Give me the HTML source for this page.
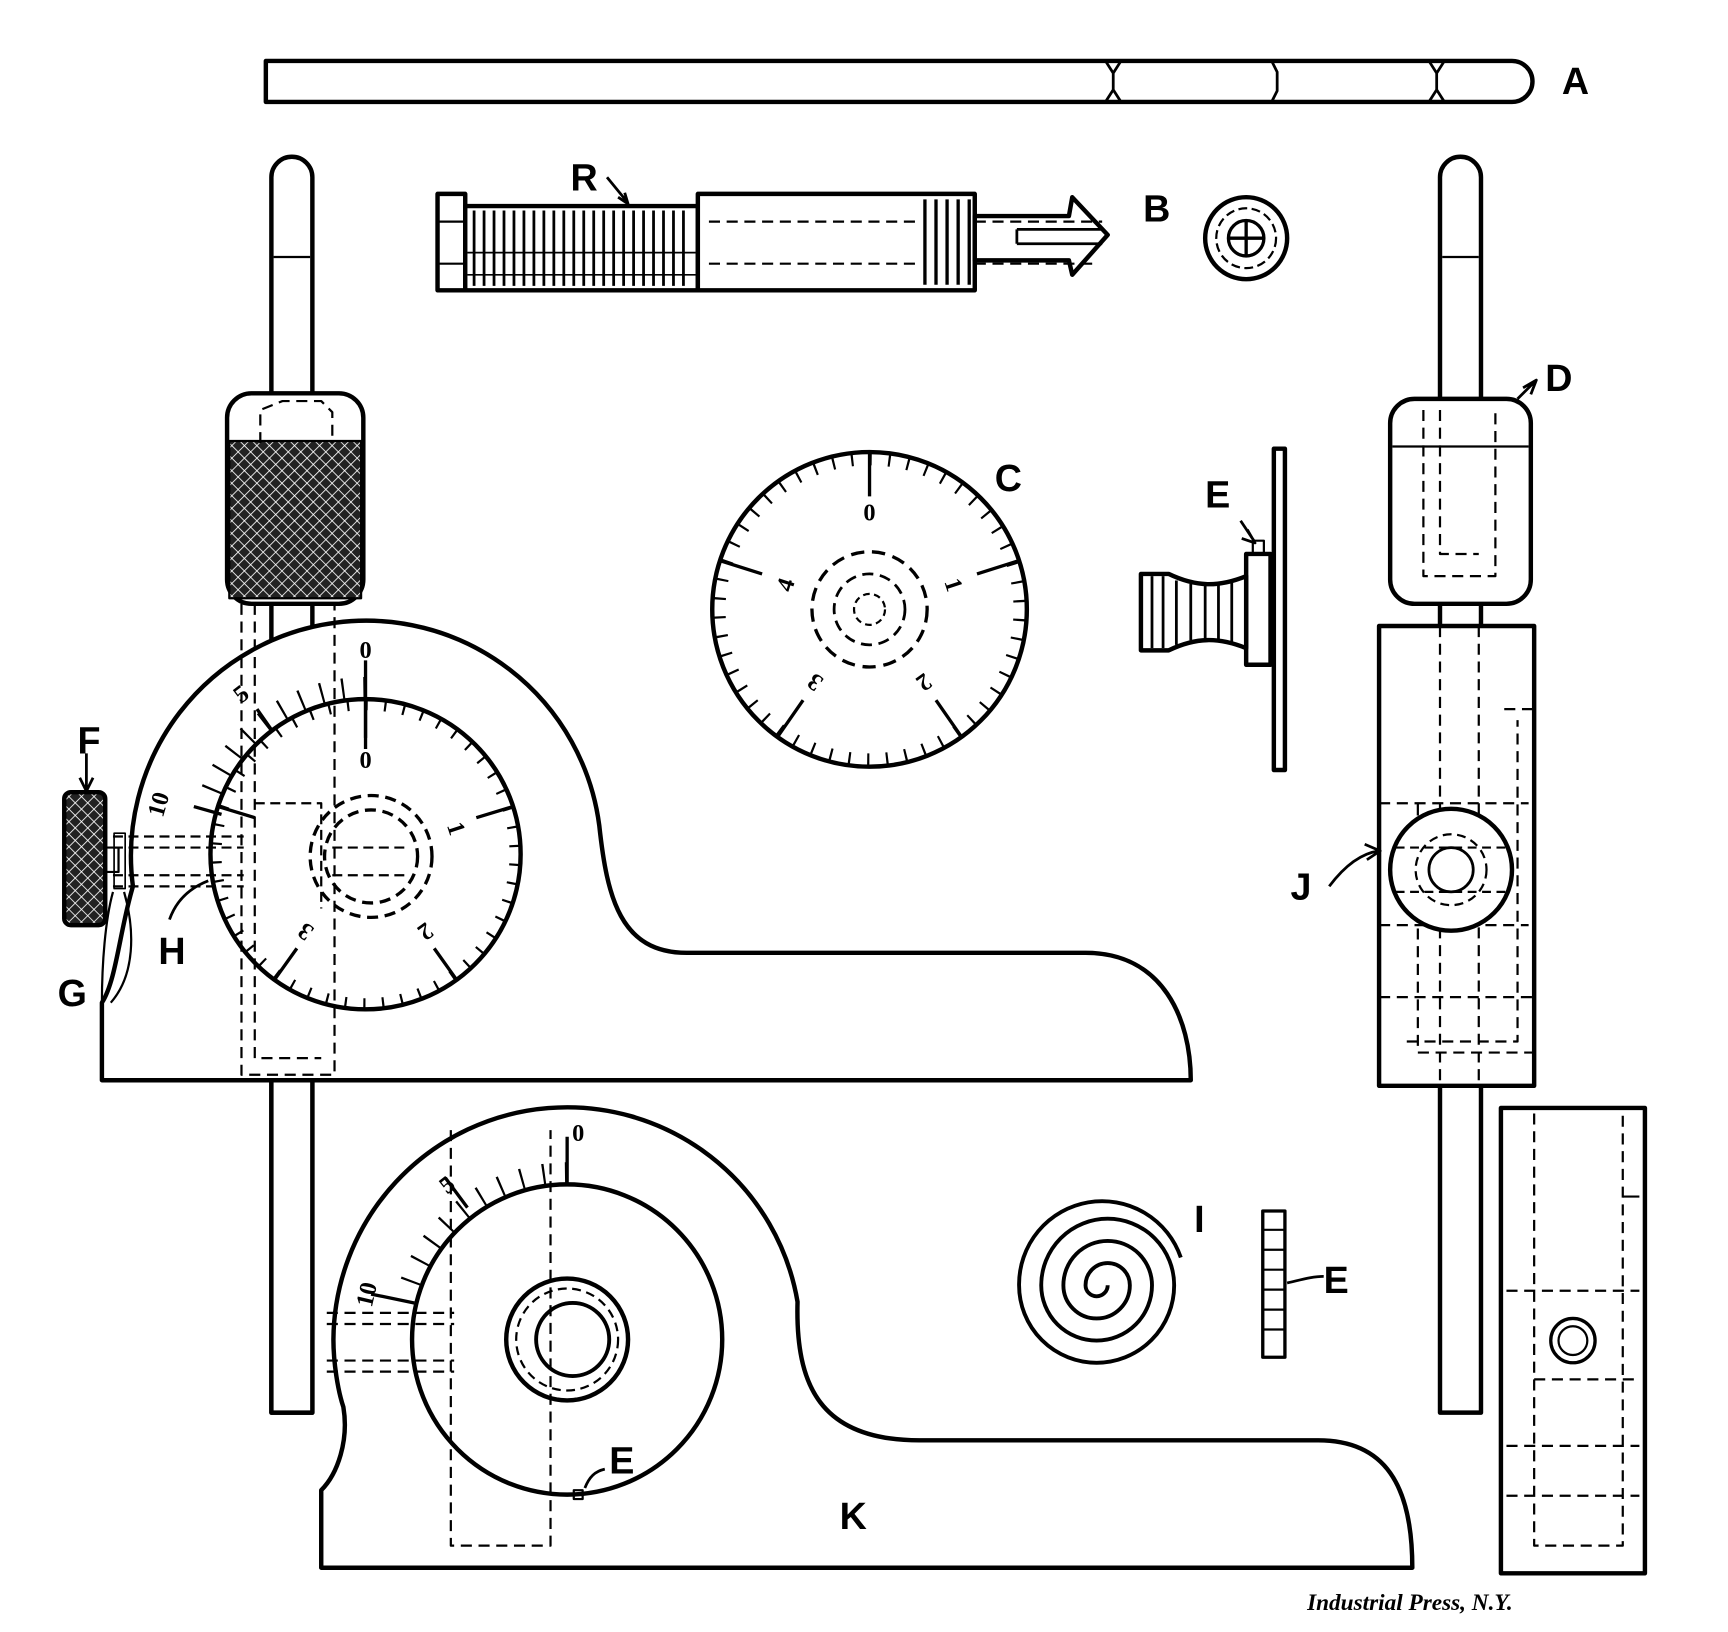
<!DOCTYPE html>
<html><head><meta charset="utf-8"><style>
html,body{margin:0;padding:0;background:#fff;}
svg{display:block;}
.l{font-family:"Liberation Sans",sans-serif;font-weight:bold;fill:#000;}
.n{font-family:"Liberation Serif",serif;font-weight:bold;fill:#000;}
</style></head><body>
<svg width="1728" height="1632" viewBox="0 0 1560 1473" preserveAspectRatio="none" xmlns="http://www.w3.org/2000/svg">
<defs>
<pattern id="kn" width="8" height="8" patternUnits="userSpaceOnUse" patternTransform="rotate(45)">
<rect width="8" height="8" fill="#222"/><line x1="0" y1="0" x2="0" y2="8" stroke="#fff" stroke-width="1.5"/><line x1="0" y1="0" x2="8" y2="0" stroke="#fff" stroke-width="1.5"/></pattern>
</defs>
<g fill="none" stroke="#000" stroke-width="4" stroke-linejoin="round">
<!-- A rod -->
<path d="M240,55 L1365,55 A18,18 0 0 1 1365,92 L240,92 Z"/>
<path d="M998,55 L1005,66 L1005,81 L998,92 M1012,55 L1005,66 M1005,81 L1012,92 M1148,55 L1153,65 L1153,82 L1148,92 M1290,55 L1297,66 L1297,81 L1290,92 M1304,55 L1297,66 M1297,81 L1304,92" stroke-width="2.5"/>
<!-- left rod -->
<path d="M245,1275 L245,160 A18,18 0 0 1 282,160 L282,1275 Z" fill="#fff"/>
<line x1="247" y1="232" x2="280" y2="232" stroke-width="2"/>
<!-- left collar -->
<rect x="205" y="355" width="123" height="190" rx="22" fill="#fff"/>
<rect x="207" y="398" width="119" height="142" fill="url(#kn)" stroke-width="2"/>
<path d="M235,400 L235,370 L255,362 L290,362 L300,372 L300,400" stroke-dasharray="10,6" stroke-width="2"/>
<!-- left body -->
<path d="M92,975 L92,905 C105,885 108,840 120,800 A212,212 0 1 1 541,745 C548,810 560,860 620,860 L980,860 C1050,860 1075,920 1075,975 Z" fill="#fff"/>
<rect x="245" y="975" width="37" height="300" fill="#fff"/>
<circle cx="330" cy="771" r="140" fill="#fff"/>
<!-- dial inner ticks -->
<circle cx="330" cy="771" r="135" stroke-width="10" stroke-dasharray="2 14.96" transform="rotate(-90 330 771)"/>
<path d="M330,631 L330,666 M463,728 L430,738 M412,884 L392,856 M248,884 L268,856 M197,728 L230,738" stroke-width="3"/>
<!-- outer scale ticks -->
<path d="M330,621 A150,150 0 0 0 186,729" stroke-width="20" stroke-dasharray="2 17.4"/>
<path d="M330,596 L330,676 M246,660 L232,640 M200,735 L175,728" stroke-width="3"/>
<path d="M218,545 L218,970 L302,970 L302,545 M230,545 L230,955 L290,955" stroke-dasharray="10,6" stroke-width="2"/>
<circle cx="335" cy="773" r="55" stroke-dasharray="10,6" stroke-width="3"/>
<circle cx="335" cy="773" r="42" stroke-dasharray="10,6" stroke-width="3"/>
<path d="M102,755 L220,755 M102,765 L220,765 M102,790 L220,790 M102,800 L220,800 M230,725 L290,725 L290,820 M300,765 L370,765 M300,790 L370,790" stroke-dasharray="9,5" stroke-width="2"/>
<!-- F knob -->
<rect x="58" y="715" width="37" height="120" rx="6" fill="url(#kn)"/>
<rect x="95" y="765" width="12" height="22" stroke-width="2"/>
<rect x="103" y="752" width="10" height="50" stroke-width="1.5"/>
<path d="M102,805 C95,830 92,870 92,905" stroke-width="2"/>
<path d="M112,805 C122,840 122,880 100,905" stroke-width="2"/>
<path d="M78,680 L78,712 M72,702 L78,714 L84,702" stroke-width="2.5"/>
<path d="M153,830 C160,810 175,800 188,795" stroke-width="2.5"/>
<!-- R screw -->
<rect x="395" y="175" width="25" height="87" fill="#fff"/>
<path d="M395,200 L420,200 M395,238 L420,238" stroke-width="2"/>
<rect x="420" y="186" width="210" height="76" fill="#fff"/>
<path d="M428,190 L428,258 M437,190 L437,258 M446,190 L446,258 M455,190 L455,258 M464,190 L464,258 M473,190 L473,258 M482,190 L482,258 M491,190 L491,258 M500,190 L500,258 M509,190 L509,258 M518,190 L518,258 M527,190 L527,258 M536,190 L536,258 M545,190 L545,258 M554,190 L554,258 M563,190 L563,258 M572,190 L572,258 M581,190 L581,258 M590,190 L590,258 M599,190 L599,258 M608,190 L608,258 M617,190 L617,258" stroke-width="2.5"/>
<path d="M422,228 L628,228 M422,248 L628,248" stroke-width="1.5"/>
<rect x="630" y="175" width="250" height="87" fill="#fff"/>
<path d="M835,180 L835,257 M845,180 L845,257 M855,180 L855,257 M865,180 L865,257 M875,180 L875,257" stroke-width="3"/>
<path d="M880,195 L965,195 L968,178 L1000,212 L968,248 L965,235 L880,235 Z" fill="#fff"/>
<path d="M918,207 L995,207 M918,220 L995,220 M918,207 L918,220" stroke-width="2.5"/>
<path d="M640,200 L830,200 M640,238 L830,238 M880,200 L995,200 M880,238 L990,238" stroke-dasharray="10,6" stroke-width="2"/>
<path d="M548,160 L566,182 M558,178 L567,184 L564,174" stroke-width="2.5"/>
<!-- B end -->
<circle cx="1125" cy="215" r="37"/><circle cx="1125" cy="215" r="27" stroke-dasharray="8,4" stroke-width="2"/>
<circle cx="1125" cy="215" r="16" stroke-width="3"/><path d="M1109,215 L1141,215 M1125,199 L1125,231" stroke-width="3"/>
<!-- C dial -->
<circle cx="785" cy="550" r="142" fill="#fff"/>
<circle cx="785" cy="550" r="136" stroke-width="12" stroke-dasharray="2 15.09" transform="rotate(-90 785 550)"/>
<path d="M785,408 L785,448 M920,506 L882,518 M868,665 L845,632 M702,665 L725,632 M650,506 L688,518" stroke-width="3"/>
<circle cx="785" cy="550" r="52" stroke-dasharray="12,7" stroke-width="3"/>
<circle cx="785" cy="550" r="32" stroke-dasharray="10,6" stroke-width="2.5"/>
<circle cx="785" cy="550" r="14" stroke-dasharray="6,4" stroke-width="2"/>
<!-- E side -->
<rect x="1150" y="405" width="10" height="290" fill="#fff"/>
<rect x="1125" y="500" width="22" height="100" fill="#fff"/>
<rect x="1131" y="488" width="10" height="12" stroke-width="2"/>
<path d="M1030,518 L1055,518 C1080,530 1100,530 1125,520 L1125,585 C1100,575 1080,575 1055,587 L1030,587 Z" fill="#fff"/>
<path d="M1040,520 L1040,585 M1050,520 L1050,585 M1062,524 L1062,582 M1075,527 L1075,578 M1088,528 L1088,577 M1100,528 L1100,577 M1112,525 L1112,580" stroke-width="2.5"/>
<path d="M1120,470 L1132,488 M1126,478 L1133,490 L1121,486" stroke-width="2.5"/>
<!-- right rod -->
<path d="M1300,1275 L1300,160 A18,18 0 0 1 1337,160 L1337,1275 Z" fill="#fff"/>
<line x1="1302" y1="232" x2="1335" y2="232" stroke-width="2"/>
<rect x="1255" y="360" width="127" height="185" rx="22" fill="#fff"/>
<line x1="1257" y1="403" x2="1380" y2="403" stroke-width="2"/>
<path d="M1285,370 L1285,520 L1350,520 L1350,370 M1300,370 L1300,500 L1335,500" stroke-dasharray="10,6" stroke-width="2"/>
<rect x="1245" y="565" width="140" height="415" fill="#fff"/>
<path d="M1300,565 L1300,975 M1335,565 L1335,975 M1358,640 L1385,640 L1385,950 L1280,950 L1280,720 M1245,725 L1380,725 M1245,835 L1380,835 M1245,900 L1385,900 M1270,940 L1370,940 L1370,650" stroke-dasharray="10,6" stroke-width="2"/>
<circle cx="1310" cy="785" r="55" fill="#fff"/>
<circle cx="1310" cy="785" r="20" stroke-width="2.5"/><circle cx="1310" cy="785" r="32" stroke-dasharray="8,5" stroke-width="2"/>
<path d="M1260,765 L1360,765 M1260,805 L1360,805" stroke-dasharray="8,5" stroke-width="2"/>
<path d="M1200,800 C1215,780 1230,770 1245,768 M1232,762 L1246,768 L1234,776" stroke-width="2.5"/>
<path d="M1370,360 L1385,345 M1375,350 L1387,343 L1382,356" stroke-width="2.5"/>
<!-- K body -->
<path d="M290,1415 L290,1345 C305,1330 315,1300 310,1270 C305,1255 301,1230 301,1209 A211,211 0 0 1 720,1175 C718,1250 740,1300 830,1300 L1190,1300 C1250,1300 1275,1340 1275,1415 Z" fill="#fff"/>
<circle cx="512" cy="1209" r="140" fill="#fff"/>
<path d="M512,1059 A150,150 0 0 0 366,1175" stroke-width="20" stroke-dasharray="2 18.1"/>
<path d="M512,1026 L512,1068 M422,1090 L402,1063 M374,1176 L335,1168" stroke-width="3"/>
<circle cx="512" cy="1209" r="55"/>
<circle cx="517" cy="1209" r="33" stroke-width="3.5"/>
<circle cx="512" cy="1209" r="46" stroke-dasharray="8,5" stroke-width="2"/>
<path d="M407,1020 L407,1395 L497,1395 L497,1020 M295,1185 L410,1185 M295,1195 L410,1195 M295,1228 L410,1228 M295,1238 L410,1238" stroke-dasharray="10,6" stroke-width="2"/>
<rect x="518" y="1345" width="8" height="8" stroke-width="2"/>
<path d="M528,1343 C532,1333 537,1328 546,1326" stroke-width="2.5"/>
<!-- spiral -->
<path d="M1000,1160 A10,10 0 0 1 980,1160 A20,20 0 0 1 1020,1160 A30,30 0 0 1 960,1160 A40,40 0 0 1 1040,1160 A50,50 0 0 1 940,1160 A60,60 0 0 1 1060,1160 A70,70 0 0 1 920,1160 A75,75 0 0 1 1066,1135" stroke-width="3.5"/>
<!-- E bar -->
<rect x="1140" y="1093" width="20" height="132" fill="#fff" stroke-width="3"/>
<path d="M1140,1110 L1160,1110 M1140,1128 L1160,1128 M1140,1146 L1160,1146 M1140,1164 L1160,1164 M1140,1182 L1160,1182 M1140,1200 L1160,1200" stroke-width="2"/>
<path d="M1162,1158 C1175,1155 1185,1152 1195,1152" stroke-width="2.5"/>
<!-- right bottom block -->
<rect x="1355" y="1000" width="130" height="420"/>
<path d="M1385,1005 L1385,1395 L1465,1395 L1465,1005 M1360,1165 L1480,1165 M1385,1245 L1480,1245 M1360,1305 L1480,1305 M1360,1350 L1480,1350" stroke-dasharray="10,6" stroke-width="2"/>
<circle cx="1420" cy="1210" r="20" stroke-width="3"/><circle cx="1420" cy="1210" r="13" stroke-width="2"/>
<line x1="1465" y1="1080" x2="1480" y2="1080" stroke-width="2"/>
</g>
<g class="l" font-size="34">
<text class="l" x="1410" y="85">A</text><text class="l" x="1032" y="200">B</text><text class="l" x="515" y="172">R</text>
<text class="l" x="898" y="443">C</text><text class="l" x="1395" y="353">D</text><text class="l" x="1088" y="458">E</text>
<text class="l" x="70" y="680">F</text><text class="l" x="52" y="908">G</text><text class="l" x="143" y="870">H</text>
<text class="l" x="1165" y="812">J</text><text class="l" x="1078" y="1112">I</text><text class="l" x="1195" y="1167">E</text>
<text class="l" x="550" y="1330">E</text><text class="l" x="758" y="1380">K</text>
</g>
<g class="n" font-size="22" text-anchor="middle">
<text class="n" x="785" y="470">0</text>
<text class="n" transform="translate(854,530) rotate(72)">1</text>
<text class="n" transform="translate(830,610) rotate(144)">2</text>
<text class="n" transform="translate(740,610) rotate(216)">3</text>
<text class="n" transform="translate(716,530) rotate(288)">4</text>
<text class="n" x="330" y="594">0</text>
<text class="n" x="330" y="693">0</text>
<text class="n" transform="translate(405,750) rotate(72)">1</text>
<text class="n" transform="translate(380,835) rotate(144)">2</text>
<text class="n" transform="translate(280,835) rotate(216)">3</text>
<text class="n" transform="translate(222,632) rotate(-37)">5</text>
<text class="n" transform="translate(150,728) rotate(-74)">10</text>
<text class="n" x="522" y="1030">0</text>
<text class="n" transform="translate(408,1075) rotate(-38)">5</text>
<text class="n" transform="translate(338,1170) rotate(-77)">10</text>
</g>
<text x="1180" y="1453" class="n" style="font-style:italic" font-size="21">Industrial Press, N.Y.</text>
</svg>
</body></html>
